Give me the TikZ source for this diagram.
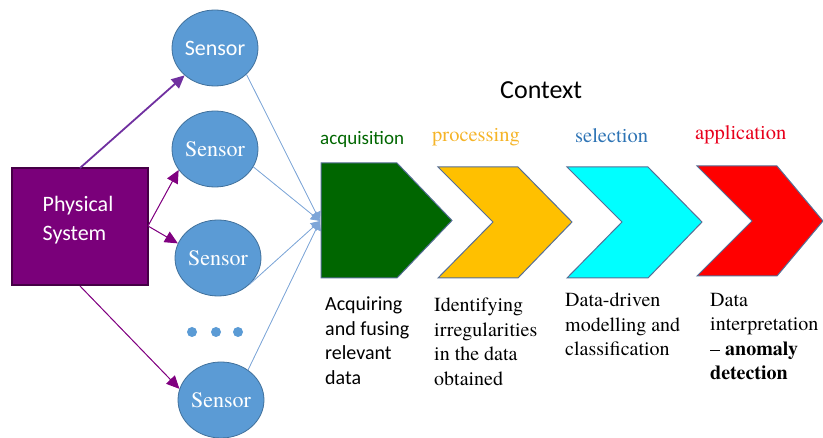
\documentclass[tikz,border=0pt]{standalone}
\usepackage{fontspec}
\setmainfont{texgyretermes}[Extension=.otf, UprightFont=*-regular,
  BoldFont=*-bold, ItalicFont=*-italic, BoldItalicFont=*-bolditalic]
\newfontfamily\calfont{Carlito}
\usetikzlibrary{arrows.meta,shapes.geometric}

\definecolor{sysfill}{RGB}{122,0,122}
\definecolor{sysedge}{RGB}{70,0,70}
\definecolor{arrowviolet}{RGB}{112,48,160}
\definecolor{arrowpurple}{RGB}{128,0,128}
\definecolor{sensfill}{RGB}{91,155,213}
\definecolor{sensedge}{RGB}{65,113,156}
\definecolor{feedline}{RGB}{126,166,216}
\definecolor{chevedge}{RGB}{86,110,150}
\definecolor{acqgreen}{RGB}{0,102,0}
\definecolor{procyellow}{RGB}{255,192,0}
\definecolor{proctext}{RGB}{245,180,40}
\definecolor{selcyan}{RGB}{0,255,255}
\definecolor{seltext}{RGB}{46,116,181}
\definecolor{appred}{RGB}{255,0,0}
\definecolor{apptext}{RGB}{232,0,28}

\tikzset{
  sensor/.style={ellipse, fill=sensfill, draw=sensedge, line width=0.8pt,
    minimum width=86pt, minimum height=76pt, inner sep=0pt, text=white},
  sensorlabel/.style={inner sep=0pt, text=white},
  feed/.style={draw=feedline, line width=0.8pt,
    -{Triangle[length=9pt,width=10pt]}},
  excite/.style={line width=1pt, -{Triangle[length=13pt,width=12pt]}},
  chev/.style={draw=chevedge, line width=1pt, line join=miter},
  stage/.style={anchor=base west, inner sep=0pt},
  caption/.style={anchor=north west, inner sep=0pt, align=left, text=black,
    font=\fontsize{20}{24.5}\selectfont},
}
% serif and sans text setters
\newcommand\serif[2]{{\rmfamily\fontsize{#1}{24.5}\selectfont #2}}
\newcommand\sans[2]{{\calfont\fontsize{#1}{24.5}\selectfont #2}}

\begin{document}
\begin{tikzpicture}[x=1pt,y=-1pt]
\useasboundingbox (0,0) rectangle (823,438);

% physical system block
\node[draw=sysedge, fill=sysfill, line width=1.2pt, minimum width=136pt,
      minimum height=117pt, inner sep=0pt] (sys) at (80,226.5) {};
\node[text=white, align=left, inner sep=0pt,
      font=\calfont\fontsize{22}{29}\selectfont] (systxt) at (78,220)
      {Physical\\System};

% sensors
\node[sensor] (s1) at (215,48) {\sans{22}{Sensor}};
\node[sensor] (s2) at (215,149) {};
\node[sensor] (s3) at (218,258) {};
\node[sensor] (s4) at (221,400) {};

% ellipsis dots
\foreach \x/\n in {192/d1,216/d2,238/d3}
  \node[circle, fill=sensfill, minimum size=10pt, inner sep=0pt] (\n) at (\x,332) {};

% excitation arrows from the system to the sensors
\coordinate (systop) at (80,168);
\coordinate (sysright) at (148,226);
\coordinate (sysbot) at (80,286);
\draw[excite, draw=arrowviolet, fill=arrowviolet, line width=1.8pt] (systop) -- (s1.-138);
\draw[excite, draw=arrowpurple, fill=arrowpurple] (sysright) -- (s2.-150);
\draw[excite, draw=arrowpurple, fill=arrowpurple] (sysright) -- (s3.160);
\draw[excite, draw=arrowpurple, fill=arrowpurple] (sysbot) -- (s4.165);

% sensor signals into acquisition
\coordinate (acqin) at (320,221);
\draw[feed, fill=sensfill] (s1.-40) -- (acqin);
\draw[feed, fill=sensfill] (s2.-25) -- (acqin);
\draw[feed, fill=sensfill] (s3.-40) -- (acqin);
\draw[feed, fill=sensfill] (s4.48) -- (acqin);

% context chain
\node[stage] (ctx) at (500,99) {\sans{26}{Context}};

\fill[acqgreen, chev] (321,163) -- (397,163) -- (452,220.5) -- (397,278) -- (321,278) -- cycle;
\fill[procyellow, chev] (438,167) -- (518,167) -- (572,222) -- (518,278) -- (438,278) -- (493,222) -- cycle;
\fill[selcyan, chev] (567,167) -- (648,167) -- (702,222) -- (648,278) -- (567,278) -- (622,222) -- cycle;
\fill[appred, chev] (697,166) -- (777,166) -- (823,221) -- (777,276) -- (697,276) -- (752,221) -- cycle;

\node[stage, text=acqgreen] (lacq) at (320,145) {\sans{19}{acquisition}};
\node[stage, text=proctext] (lproc) at (432,142) {\serif{20.5}{processing}};
\node[stage, text=seltext] (lsel) at (575,143) {\serif{20.5}{selection}};
\node[stage, text=apptext] (lapp) at (695,140) {\serif{20.5}{application}};

% stage descriptions
\node[caption] (dacq) at (325,297)
  {\sans{20}{Acquiring}\\\sans{20}{and fusing}\\\sans{20}{relevant}\\\sans{20}{data}};
\node[caption] (dproc) at (434,298)
  {\serif{20}{Identifying}\\\serif{20}{irregularities}\\\serif{20}{in the data}\\\serif{20}{obtained}};
\node[caption] (dsel) at (565,293)
  {\serif{20}{Data-driven}\\\serif{20}{modelling and}\\\serif{20}{classification}};
\node[caption] (dapp) at (710,293)
  {\serif{20}{Data}\\\serif{20}{interpretation}\\\serif{20}{– \textbf{anomaly}}\\\serif{20}{\textbf{detection}}};

% serif sensor names
\node[sensorlabel] (s2name) at (s2.center) {\serif{22}{Sensor}};
\node[sensorlabel] (s3name) at (s3.center) {\serif{22}{Sensor}};
\node[sensorlabel] (s4name) at (s4.center) {\serif{22}{Sensor}};
\end{tikzpicture}
\end{document}
